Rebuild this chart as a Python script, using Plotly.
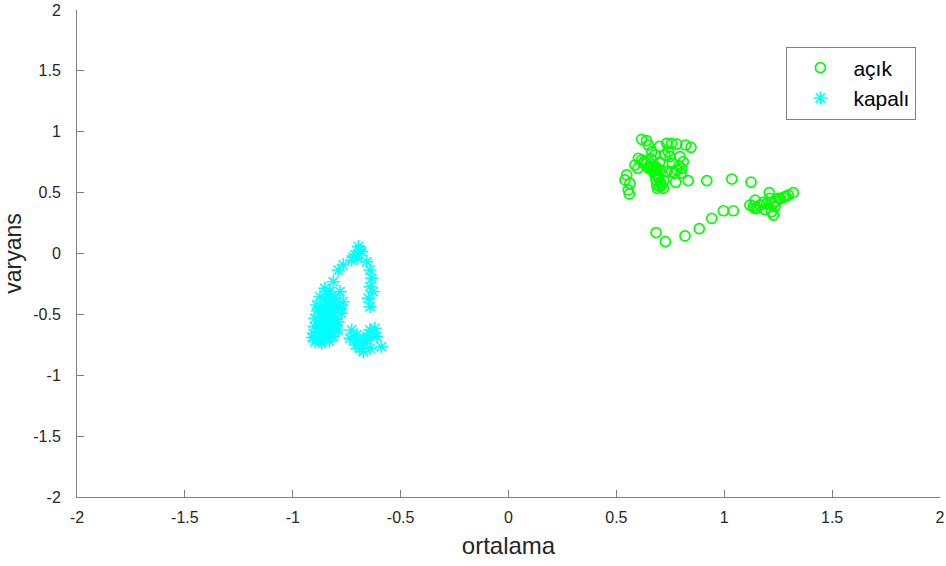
import plotly.graph_objects as go

# açık (open) series: ortalama (mean) and varyans (variance)
acik_x = [0.617, 0.640, 0.648, 0.664, 0.679, 0.733, 0.756, 0.780, 0.821, 0.846,
          0.741, 0.725, 0.749, 0.602, 0.617, 0.586, 0.640, 0.671, 0.702, 0.733,
          0.756, 0.780, 0.803, 0.810, 0.795, 0.548, 0.540, 0.563, 0.555, 0.560,
          0.679, 0.684, 0.687, 0.690, 0.718, 0.671, 0.656, 0.775, 0.833, 0.919,
          1.035, 1.124, 1.119, 1.143, 1.166, 1.197, 1.209, 1.212, 1.220, 1.228,
          1.235, 1.251, 1.274, 1.297, 1.320, 1.228, 1.150, 1.135, 0.996, 1.042,
          0.942, 0.884, 0.818, 0.684, 0.727, 0.695, 0.705, 0.690, 0.700, 0.760,
          0.770, 0.650, 0.630, 1.180, 1.260, 0.680, 0.682, 0.686, 0.692, 0.700,
          0.710, 0.720, 0.600, 0.625, 0.660, 0.790, 0.800, 0.700, 1.140, 1.190,
          1.240, 1.285]
acik_y = [0.938, 0.927, 0.891, 0.836, 0.809, 0.905, 0.905, 0.899, 0.891, 0.872,
          0.836, 0.809, 0.795, 0.782, 0.768, 0.727, 0.741, 0.713, 0.686, 0.672,
          0.672, 0.686, 0.700, 0.754, 0.795, 0.645, 0.604, 0.576, 0.522, 0.489,
          0.645, 0.604, 0.563, 0.535, 0.535, 0.672, 0.713, 0.585, 0.598, 0.598,
          0.612, 0.587, 0.398, 0.439, 0.398, 0.412, 0.500, 0.453, 0.344, 0.316,
          0.384, 0.453, 0.462, 0.480, 0.500, 0.412, 0.371, 0.390, 0.351, 0.351,
          0.289, 0.204, 0.144, 0.171, 0.097, 0.620, 0.580, 0.700, 0.750, 0.740,
          0.660, 0.700, 0.760, 0.420, 0.450, 0.720, 0.690, 0.660, 0.630, 0.550,
          0.560, 0.600, 0.700, 0.740, 0.780, 0.720, 0.660, 0.880, 0.370, 0.360,
          0.430, 0.470]

# kapalı (closed) series
kapali_x = [-0.696, -0.680, -0.711, -0.727, -0.766, -0.789, -0.812, -0.657, -0.642, -0.634,
            -0.642, -0.627, -0.650, -0.642, -0.851, -0.827, -0.874, -0.804, -0.889, -0.843,
            -0.789, -0.866, -0.819, -0.773, -0.897, -0.851, -0.796, -0.882, -0.831, -0.905,
            -0.858, -0.897, -0.866, -0.812, -0.789, -0.766, -0.781, -0.727, -0.735, -0.704,
            -0.680, -0.711, -0.673, -0.642, -0.642, -0.619, -0.611, -0.589, -0.657, -0.840,
            -0.860, -0.820, -0.880, -0.800, -0.835, -0.815, -0.850, -0.870, -0.885, -0.845,
            -0.825, -0.805, -0.860, -0.840, -0.820, -0.875, -0.855, -0.835, -0.815, -0.890,
            -0.870, -0.850, -0.830, -0.880, -0.860, -0.840, -0.700, -0.690, -0.720, -0.665,
            -0.655, -0.640, -0.690, -0.705, -0.900, -0.910, -0.790, -0.780]
kapali_y = [0.056, 0.015, -0.012, -0.053, -0.094, -0.136, -0.232, -0.067, -0.136, -0.204,
            -0.273, -0.314, -0.368, -0.437, -0.286, -0.314, -0.355, -0.368, -0.423, -0.423,
            -0.437, -0.478, -0.491, -0.491, -0.532, -0.546, -0.560, -0.601, -0.615, -0.655,
            -0.669, -0.724, -0.738, -0.683, -0.628, -0.396, -0.314, -0.628, -0.697, -0.669,
            -0.724, -0.752, -0.807, -0.779, -0.628, -0.615, -0.683, -0.765, -0.683, -0.580,
            -0.640, -0.520, -0.700, -0.450, -0.340, -0.400, -0.390, -0.450, -0.470, -0.470,
            -0.520, -0.540, -0.520, -0.580, -0.600, -0.570, -0.620, -0.650, -0.580, -0.690,
            -0.710, -0.700, -0.720, -0.610, -0.690, -0.660, -0.040, 0.030, -0.030, -0.740,
            -0.700, -0.660, -0.780, -0.700, -0.600, -0.690, -0.560, -0.450]

x_ticks = [-2, -1.5, -1, -0.5, 0, 0.5, 1, 1.5, 2]
y_ticks = [-2, -1.5, -1, -0.5, 0, 0.5, 1, 1.5, 2]
x_tick_labels = ["-2", "-1.5", "-1", "-0.5", "0", "0.5", "1", "1.5", "2"]
y_tick_labels = ["-2", "-1.5", "-1", "-0.5", "0", "0.5", "1", "1.5", "2"]

fig = go.Figure()
fig.add_trace(go.Scatter(
    x=acik_x, y=acik_y, mode="markers", name="açık",
    marker=dict(symbol="circle-open", size=10, color="#00ff00",
                line=dict(width=1.7, color="#00ff00")),
))
fig.add_trace(go.Scatter(
    x=kapali_x, y=kapali_y, mode="markers", name="kapalı",
    marker=dict(symbol="asterisk", size=11, color="#00ffff",
                line=dict(width=1.6, color="#00ffff")),
))

axis_common = dict(
    showgrid=False, zeroline=False, showline=True, linecolor="#7f7f7f",
    linewidth=1, ticks="inside", ticklen=7, tickcolor="#7f7f7f",
    tickfont=dict(family="Liberation Sans, Arial, sans-serif", size=16, color="#262626"),
    mirror=False, automargin=False,
)

fig.update_layout(
    width=946, height=566,
    margin=dict(l=77, r=6, t=10, b=69),
    paper_bgcolor="white", plot_bgcolor="white",
    font=dict(family="Liberation Sans, Arial, sans-serif", color="#262626"),
    xaxis=dict(range=[-2, 2], tickvals=x_ticks, ticktext=x_tick_labels,
               ticklabelstandoff=6,
               title=dict(text="ortalama", font=dict(size=24), standoff=11),
               **axis_common),
    yaxis=dict(range=[-2, 2], tickvals=y_ticks, ticktext=y_tick_labels,
               ticklabelstandoff=12,
               title=dict(text="varyans", font=dict(size=23), standoff=8),
               **axis_common),
    legend=dict(x=0.822, y=0.925, xanchor="left", yanchor="top",
                bgcolor="white", bordercolor="#7f7f7f", borderwidth=1,
                font=dict(size=21, color="#000000"), itemwidth=56,
                entrywidth=138, entrywidthmode="pixels"),
    showlegend=True,
)

fig.write_html("out.html", config={"displayModeBar": False},
               post_script="document.body.style.margin='0px';document.body.style.padding='0px';")
